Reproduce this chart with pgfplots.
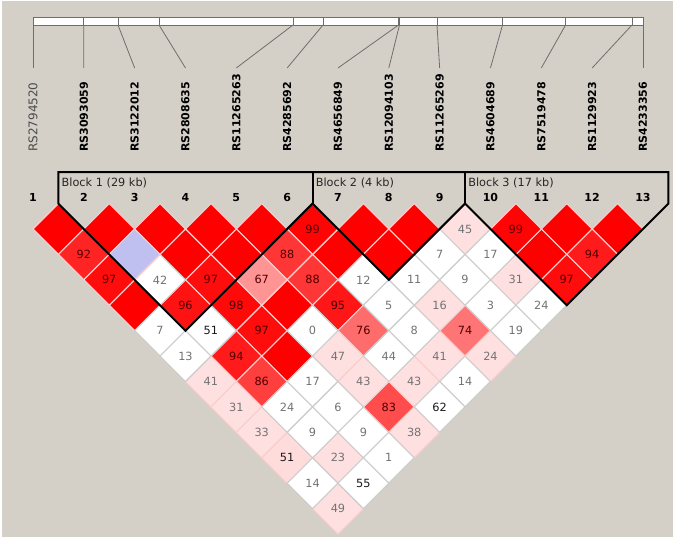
\documentclass[border=0pt]{standalone}
\usepackage{fontspec}
\setmainfont{DejaVu Sans}
\usepackage{pgfplots}
\usepackage{pgfplotstable}
\pgfplotsset{compat=1.18}
\definecolor{bggray}{RGB}{212,208,200}
\definecolor{ldblue}{RGB}{192,192,240}
\definecolor{bordred}{RGB}{250,205,205}
\definecolor{bordgray}{RGB}{205,205,205}
\definecolor{txtgray}{RGB}{115,115,115}
\definecolor{txtdark}{RGB}{80,0,0}
\definecolor{txtblack}{RGB}{25,25,25}
\definecolor{linegray}{RGB}{110,110,110}
\tikzset{snp/.style={rotate=90, anchor=west, inner sep=0pt, font=\fontsize{11}{13}\selectfont\bfseries}}

% red family cells: x=(i+j)/2, y=j-i, g = green/blue channel
\pgfplotstableread{
x y g
1.5 1 0
2.5 1 0
3.5 1 0
4.5 1 0
5.5 1 0
7.5 1 0
8.5 1 0
11.5 1 0
12.5 1 0
4 2 0
5 2 0
7 2 0
8 2 0
11 2 0
3 4 0
6 4 0
6 6 0
6.5 1 4
10.5 1 4
2 2 36
6 2 54
12 2 27
2.5 3 13
4.5 3 13
5.5 3 147
6.5 3 54
11.5 3 13
4 4 18
5 4 9
7 4 22
5.5 5 13
7.5 5 107
9.5 5 116
5 6 27
5.5 7 62
8 8 76
9.5 1 224
10.5 3 224
9 4 224
7 6 224
9 6 224
10 6 224
4.5 7 224
7.5 7 224
8.5 7 224
5 8 224
5.5 9 224
8.5 9 224
6 10 218
7 10 224
7 12 224
}\redT

\pgfplotstableread{
x y
9 2
10 2
3.5 3
7.5 3
8.5 3
9.5 3
8 4
10 4
11 4
3.5 5
4.5 5
6.5 5
8.5 5
10.5 5
4 6
8 6
6.5 7
9.5 7
6 8
7 8
9 8
6.5 9
7.5 9
8 10
6.5 11
7.5 11
}\whiteT

\pgfplotstableread{
x y lab
6.5 1 99
10.5 1 99
2 2 92
6 2 88
12 2 94
2.5 3 97
4.5 3 97
5.5 3 67
6.5 3 88
11.5 3 97
4 4 96
5 4 98
7 4 95
5.5 5 97
7.5 5 76
9.5 5 74
5 6 94
5.5 7 86
8 8 83
}\darkL

\pgfplotstableread{
x y lab
9.5 1 45
9 2 7
10 2 17
3.5 3 42
7.5 3 12
8.5 3 11
9.5 3 9
10.5 3 31
8 4 5
9 4 16
10 4 3
11 4 24
3.5 5 7
6.5 5 0
8.5 5 8
10.5 5 19
4 6 13
7 6 47
8 6 44
9 6 41
10 6 24
4.5 7 41
6.5 7 17
7.5 7 43
8.5 7 43
9.5 7 14
5 8 31
6 8 24
7 8 6
5.5 9 33
6.5 9 9
7.5 9 9
8.5 9 38
7 10 23
8 10 1
6.5 11 14
7 12 49
}\grayL

\pgfplotstableread{
x y lab
4.5 5 51
9 8 62
6 10 51
7.5 11 55
}\blackL

% marker numbers
\pgfplotstableread{
x y lab
1 -0.08 1
2 -0.08 2
3 -0.08 3
4 -0.08 4
5 -0.08 5
6 -0.08 6
7 -0.08 7
8 -0.08 8
9 -0.08 9
10 -0.08 10
11 -0.08 11
12 -0.08 12
13 -0.08 13
}\numT

\begin{document}
\begin{tikzpicture}
\begin{axis}[
  set layers,
  x=50.83pt, y=25.42pt, y dir=reverse,
  xmin=0.3508, xmax=13.6303, ymin=-8.009, ymax=13.195,
  hide axis, clip=false, scale only axis,
  cellnum/.style={only marks, mark=*, mark size=0pt,
    mark options={draw=none,fill=none},
    nodes near coords, point meta=explicit symbolic,
    every node near coord/.append style={anchor=center, inner sep=0pt,
      font=\fontsize{11.3}{13}\selectfont}},
  seg/.style={draw=linegray, line width=0.8pt, mark=none},
]
% frame and background
\addplot[fill=white, draw=none] coordinates {(0.3508,-8.009) (13.6303,-8.009) (13.6303,13.195) (0.3508,13.195)} -- cycle;
\addplot[fill=bggray, draw=none] coordinates {(0.382,-7.95) (13.60,-7.95) (13.60,13.13) (0.382,13.13)} -- cycle;

% top physical bar
\addplot[fill=white, draw=linegray, line width=0.9pt] coordinates {(1,-7.340) (13,-7.340) (13,-7.025) (1,-7.025)} -- cycle;
\addplot[seg] coordinates {(1.997,-7.340) (1.997,-7.025)};
\addplot[seg] coordinates {(2.672,-7.340) (2.672,-7.025)};
\addplot[seg] coordinates {(3.479,-7.340) (3.479,-7.025)};
\addplot[seg] coordinates {(6.115,-7.340) (6.115,-7.025)};
\addplot[seg] coordinates {(6.705,-7.340) (6.705,-7.025)};
\addplot[seg] coordinates {(8.191,-7.340) (8.191,-7.025)};
\addplot[seg] coordinates {(8.210,-7.340) (8.210,-7.025)};
\addplot[seg] coordinates {(8.948,-7.340) (8.948,-7.025)};
\addplot[seg] coordinates {(10.237,-7.340) (10.237,-7.025)};
\addplot[seg] coordinates {(11.478,-7.340) (11.478,-7.025)};
\addplot[seg] coordinates {(12.784,-7.340) (12.784,-7.025)};
% connectors
\addplot[seg] coordinates {(1,-7.025) (1,-5.334)};
\addplot[seg] coordinates {(1.997,-7.025) (2,-5.334)};
\addplot[seg] coordinates {(2.672,-7.025) (3,-5.334)};
\addplot[seg] coordinates {(3.479,-7.025) (4,-5.334)};
\addplot[seg] coordinates {(6.115,-7.025) (5,-5.334)};
\addplot[seg] coordinates {(6.705,-7.025) (6,-5.334)};
\addplot[seg] coordinates {(8.191,-7.025) (7,-5.334)};
\addplot[seg] coordinates {(8.210,-7.025) (8,-5.334)};
\addplot[seg] coordinates {(8.948,-7.025) (9,-5.334)};
\addplot[seg] coordinates {(10.237,-7.025) (10,-5.334)};
\addplot[seg] coordinates {(11.478,-7.025) (11,-5.334)};
\addplot[seg] coordinates {(12.784,-7.025) (12,-5.334)};
\addplot[seg] coordinates {(13,-7.025) (13,-5.334)};

% SNP names
\node[rotate=90, anchor=west, inner sep=0pt, text=black!70, font=\fontsize{12}{14}\selectfont] at (axis cs:1,-2.029) {RS2794520};
\node[snp] at (axis cs:2,-2.029) {RS3093059};
\node[snp] at (axis cs:3,-2.029) {RS3122012};
\node[snp] at (axis cs:4,-2.029) {RS2808635};
\node[snp] at (axis cs:5,-2.029) {RS11265263};
\node[snp] at (axis cs:6,-2.029) {RS4285692};
\node[snp] at (axis cs:7,-2.029) {RS4656849};
\node[snp] at (axis cs:8,-2.029) {RS12094103};
\node[snp] at (axis cs:9,-2.029) {RS11265269};
\node[snp] at (axis cs:10,-2.029) {RS4604689};
\node[snp] at (axis cs:11,-2.029) {RS7519478};
\node[snp] at (axis cs:12,-2.029) {RS1129923};
\node[snp] at (axis cs:13,-2.029) {RS4233356};

% marker numbers
\addplot[cellnum, every node near coord/.append style={anchor=base, text=black, font=\fontsize{11}{13}\selectfont\bfseries}] table[x=x, y=y, meta=lab] {\numT};

% block names
\node[anchor=base west, inner sep=0pt, text=black!85, font=\fontsize{11.3}{13}\selectfont] at (axis cs:1.56,-0.66) {Block 1 (29 kb)};
\node[anchor=base west, inner sep=0pt, text=black!85, font=\fontsize{11.3}{13}\selectfont] at (axis cs:6.56,-0.66) {Block 2 (4 kb)};
\node[anchor=base west, inner sep=0pt, text=black!85, font=\fontsize{11.3}{13}\selectfont] at (axis cs:9.56,-0.66) {Block 3 (17 kb)};

% LD cells
\addplot[scatter, only marks, mark=square*, mark size=17.97pt,
  mark options={rotate=45, line width=1.1pt},
  point meta=explicit, point meta min=0, point meta max=224,
  colormap={ldred}{rgb255(0cm)=(255,0,0); rgb255(1cm)=(255,224,224)},
  scatter/use mapped color={draw=bordred, fill=mapped color}]
  table[x=x, y=y, meta=g] {\redT};
\addplot[only marks, mark=square*, mark size=17.97pt,
  mark options={rotate=45, line width=1.1pt, draw=bordgray, fill=white}]
  table[x=x, y=y] {\whiteT};
\addplot[only marks, mark=square*, mark size=17.97pt,
  mark options={rotate=45, line width=1.1pt, draw=bordred, fill=ldblue}]
  coordinates {(3,2)};

% cell numbers
\addplot[cellnum, every node near coord/.append style={text=txtdark}] table[x=x, y=y, meta=lab] {\darkL};
\addplot[cellnum, every node near coord/.append style={text=txtgray}] table[x=x, y=y, meta=lab] {\grayL};
\addplot[cellnum, every node near coord/.append style={text=txtblack}] table[x=x, y=y, meta=lab] {\blackL};

% block outlines (above the cells)
\addplot[on layer=axis foreground, draw=black, line width=2pt, mark=none, line join=miter] coordinates {
(1.5,-1.242) (13.5,-1.242) (13.5,0) (11.5,4) (9.5,0) (8,3) (6.5,0) (4,5) (1.5,0)} -- cycle;
\addplot[on layer=axis foreground, draw=black, line width=2pt, mark=none] coordinates {(6.5,-1.242) (6.5,0)};
\addplot[on layer=axis foreground, draw=black, line width=2pt, mark=none] coordinates {(9.5,-1.242) (9.5,0)};
\end{axis}
\end{tikzpicture}
\end{document}
